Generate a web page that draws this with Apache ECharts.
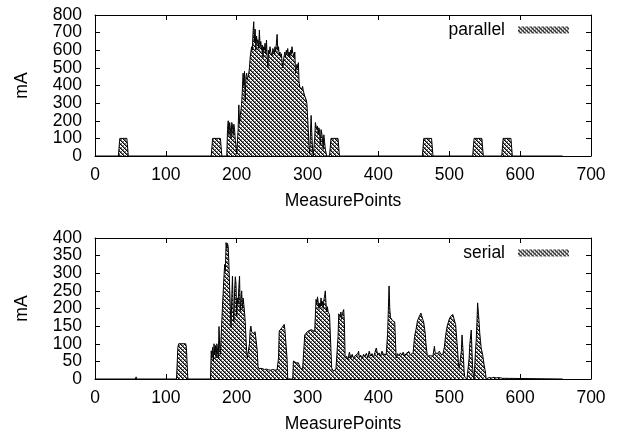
<!DOCTYPE html>
<html>
<head>
<meta charset="utf-8">
<script src="https://cdn.jsdelivr.net/npm/echarts@6/dist/echarts.min.js"></script>
<style>html,body{margin:0;padding:0;background:#fff}#c{width:623px;height:438px}</style>
</head>
<body>
<div id="c"></div>
<script>
// ---- data ----
var xTicks = [0, 100, 200, 300, 400, 500, 600, 700];
var yTicksParallel = [0, 100, 200, 300, 400, 500, 600, 700, 800];
var yTicksSerial = [0, 50, 100, 150, 200, 250, 300, 350, 400];

var parallelPoints = [
[0,0],[3,0],[4,8],[5,0],[33,0],[35,100],[45,100],[47,0],[75,0],[76,8],[77,0],[135,0],[136,8],[137,0],
[164,0],[166,100],[177,100],[179,0],[186,0],[187,150],[188,200],[189,120],[190,190],[191,160],[192,100],
[193,190],[194,175],[195,120],[196,180],[197,150],[198,90],[199,60],[200,10],[202,150],[203,290],[204,180],
[205,230],[206,260],[207,300],[208,380],[209,470],[210,400],[211,480],[212,310],[213,450],[214,470],[215,430],
[216,440],[217,470],[218,500],[219,560],[220,590],[221,620],[222,600],[223,700],[224,762],[225,650],[226,720],
[227,600],[228,680],[229,640],[230,660],[231,610],[232,715],[233,620],[234,650],[235,600],[236,630],[237,560],
[238,620],[239,600],[240,640],[241,580],[242,658],[243,560],[244,500],[245,600],[246,580],[247,620],[248,590],
[249,600],[250,570],[251,610],[252,600],[253,580],[254,620],[255,590],[256,640],[257,690],[258,600],[259,620],
[260,570],[261,590],[262,560],[263,580],[264,540],[265,500],[266,540],[267,570],[268,590],[269,560],[270,600],
[271,580],[272,610],[273,570],[274,590],[275,560],[276,600],[277,580],[278,620],[279,590],[280,600],[281,560],
[282,590],[283,470],[284,480],[285,520],[286,500],[287,530],[288,420],[289,390],[290,400],[291,390],[292,380],
[293,395],[294,370],[295,360],[296,340],[297,330],[298,320],[299,300],[300,290],[301,150],[302,60],[303,10],
[304,120],[305,230],[306,130],[307,40],[308,0],[310,100],[311,190],[312,195],[313,150],[314,170],[315,120],
[316,160],[317,140],[318,60],[319,150],[320,130],[321,100],[322,40],[323,120],[324,80],[325,40],[326,20],
[327,0],[331,0],[333,100],[343,100],[345,0],[351,0],[352,8],[353,0],[374,0],[375,8],[376,0],[433,0],[434,8],
[435,0],[462,0],[464,100],[475,100],[477,0],[533,0],[535,100],[546,100],[548,0],[574,0],[576,100],[587,100],
[589,0],[660,0]
];

var serialPoints = [
[0,0],[27,0],[28,5],[29,0],[57,0],[58,6],[59,0],[86,0],[87,5],[88,0],[115,0],[117,90],[118,100],[128,100],
[129,90],[131,0],[157,0],[158,5],[159,0],[163,0],[164,80],[165,60],[166,90],[167,50],[168,100],[169,70],
[170,95],[171,60],[172,100],[173,80],[174,60],[175,149],[176,90],[177,70],[178,120],[180,210],[181,250],
[182,290],[183,325],[184,306],[185,387],[186,370],[187,385],[188,375],[189,325],[190,259],[191,200],[192,146],
[193,230],[194,292],[195,200],[196,163],[197,250],[198,290],[199,270],[200,180],[201,230],[202,212],[203,260],
[204,292],[205,192],[206,230],[207,250],[208,200],[209,230],[210,212],[211,190],[212,163],[213,120],[214,80],
[215,60],[216,55],[217,60],[218,100],[219,140],[220,150],[221,135],[222,130],[223,129],[224,132],[225,128],
[226,134],[227,130],[228,134],[229,80],[230,37],[231,30],[233,28],[236,30],[239,27],[242,28],[245,26],
[248,25],[251,27],[254,25],[257,26],[259,60],[260,136],[262,140],[264,146],[266,150],[267,155],[268,140],
[270,136],[271,60],[272,0],[279,0],[280,51],[282,48],[284,46],[285,51],[287,46],[289,48],[290,30],[293,28],
[295,30],[296,125],[298,130],[300,135],[302,131],[305,140],[307,140],[310,135],[311,180],[312,226],[313,212],
[314,233],[315,219],[316,200],[317,215],[318,205],[319,230],[320,210],[321,220],[322,200],[323,225],[324,235],
[325,250],[326,215],[327,190],[328,205],[329,190],[330,185],[331,183],[332,182],[333,180],[334,32],[336,23],
[338,25],[340,27],[342,30],[343,120],[344,185],[345,180],[346,175],[347,190],[348,171],[349,185],[350,180],
[351,197],[352,160],[353,59],[355,65],[357,55],[359,76],[361,60],[363,70],[365,58],[367,66],[369,62],[371,72],
[372,79],[373,62],[375,68],[377,57],[379,70],[381,64],[383,73],[385,60],[387,79],[389,65],[391,72],[393,60],
[395,75],[397,88],[399,68],[401,74],[403,64],[405,79],[407,70],[409,66],[411,70],[413,130],[415,264],[416,200],
[417,175],[418,172],[420,165],[421,170],[423,162],[425,60],[427,72],[429,66],[431,74],[433,68],[435,76],
[437,65],[439,72],[441,70],[443,78],[445,68],[447,72],[449,75],[451,121],[453,140],[455,164],[457,175],
[459,180],[460,187],[461,180],[462,178],[464,160],[466,130],[467,102],[469,65],[471,70],[473,66],[475,68],
[477,65],[479,93],[480,75],[481,70],[483,72],[485,76],[486,79],[488,70],[490,72],[491,70],[493,90],[495,126],
[497,150],[498,154],[500,170],[502,178],[504,180],[505,183],[507,182],[509,154],[511,100],[512,74],[513,40],
[514,30],[515,45],[516,50],[517,80],[518,125],[519,121],[520,60],[521,20],[522,5],[525,0],[526,0],[528,60],
[529,100],[531,139],[532,80],[533,30],[534,10],[535,0],[536,40],[537,80],[538,110],[539,160],[540,216],
[541,190],[542,164],[543,130],[544,110],[545,88],[546,90],[547,70],[549,42],[551,20],[552,0],[554,5],[556,4],
[558,6],[560,3],[563,5],[566,3],[570,4],[575,2],[577,0],[660,0]
];

// ---- pattern ----
function makePattern() {
  var c = document.createElement('canvas');
  c.width = 4; c.height = 4;
  var ctx = c.getContext('2d');
  ctx.fillStyle = '#ffffff';
  ctx.fillRect(0, 0, 4, 4);
  for (var x = 0; x < 4; x++) {
    for (var y = 0; y < 4; y++) {
      var d1 = ((x - y) % 4 + 4) % 4;
      var d2 = (x + y) % 4;
      if (d1 === 0) { ctx.fillStyle = '#000000'; ctx.fillRect(x, y, 1, 1); }
      else if (d2 === 0 || d1 === 1) { ctx.fillStyle = '#6a6a6a'; ctx.fillRect(x, y, 1, 1); }
    }
  }
  return { image: c, repeat: 'repeat' };
}
var pat = makePattern();

var FONT = 'Liberation Sans';
var FS = 17.5;
var grids = [
  { left: 95, right: 32, top: 15, height: 141 },
  { left: 95, right: 32, top: 238, height: 141 }
];
var labelText = { color: '#000', fontFamily: FONT, fontSize: FS };

function xAxes(gi) {
  var common = { gridIndex: gi, type: 'value', min: xTicks[0], max: xTicks[xTicks.length - 1], interval: 100,
    splitLine: { show: false },
    axisLine: { show: true, onZero: false, lineStyle: { color: '#000', width: 1 } },
    axisTick: { show: true, inside: true, length: 5, lineStyle: { color: '#000' } } };
  return [
    Object.assign({}, common, { position: 'bottom',
      axisLabel: Object.assign({ show: true, margin: 10, showMinLabel: true, showMaxLabel: true, hideOverlap: false }, labelText),
      name: 'MeasurePoints', nameLocation: 'middle', nameGap: 36, nameMoveOverlap: false,
      nameTextStyle: labelText }),
    Object.assign({}, common, { position: 'top', axisLabel: { show: false } })
  ];
}
function yAxes(gi, ticks) {
  var step = ticks[1] - ticks[0];
  var lo = ticks[0], hi = ticks[ticks.length - 1];
  var common = { gridIndex: gi, type: 'value', min: lo, max: hi, interval: step,
    splitLine: { show: false },
    axisLine: { show: true, onZero: false, lineStyle: { color: '#000', width: 1 } },
    axisTick: { show: true, inside: true, length: 5, lineStyle: { color: '#000' } } };
  return [
    // inner labels
    Object.assign({}, common, { position: 'left',
      axisLabel: Object.assign({ show: true, margin: 13, showMinLabel: false, showMaxLabel: false, hideOverlap: false }, labelText),
      name: 'mA', nameLocation: 'middle', nameGap: 64, nameRotate: 90, nameMoveOverlap: false,
      nameTextStyle: labelText }),
    // right mirror
    Object.assign({}, common, { position: 'right', axisLabel: { show: false } }),
    // end labels (min and max)
    Object.assign({}, common, { position: 'left',
      axisLine: { show: false, onZero: false }, axisTick: { show: false },
      axisLabel: Object.assign({ show: true, margin: 13, showMinLabel: true, showMaxLabel: true, hideOverlap: false,
        formatter: function (v) { return (v === lo || v === hi) ? String(v) : ''; } }, labelText) })
  ];
}

function legendFor(name, top) {
  return {
    data: [{ name: name, icon: 'rect', itemStyle: { color: pat, borderWidth: 0 }, lineStyle: { width: 0, opacity: 0 } }],
    right: 54, top: top, align: 'right', orient: 'vertical',
    itemWidth: 51, itemHeight: 7, padding: 0,
    selectedMode: false,
    textStyle: { color: '#000', fontFamily: FONT, fontSize: FS, padding: [0, 8, 0, 0] }
  };
}

function seriesFor(name, data, xi, yi) {
  return {
    name: name, type: 'line', data: data,
    xAxisIndex: xi, yAxisIndex: yi,
    showSymbol: false, symbol: 'none',
    lineStyle: { color: '#000', width: 1 },
    itemStyle: { color: '#000' },
    areaStyle: { color: pat, opacity: 1 },
    silent: true, animation: false
  };
}

var chart = echarts.init(document.getElementById('c'), null, { renderer: 'canvas' });
chart.setOption({
  backgroundColor: '#fff',
  animation: false,
  grid: grids,
  legend: [legendFor('parallel', 21), legendFor('serial', 244)],
  xAxis: xAxes(0).concat(xAxes(1)),
  yAxis: yAxes(0, yTicksParallel).concat(yAxes(1, yTicksSerial)),
  series: [seriesFor('parallel', parallelPoints, 0, 0), seriesFor('serial', serialPoints, 2, 3)]
});
</script>
</body>
</html>
